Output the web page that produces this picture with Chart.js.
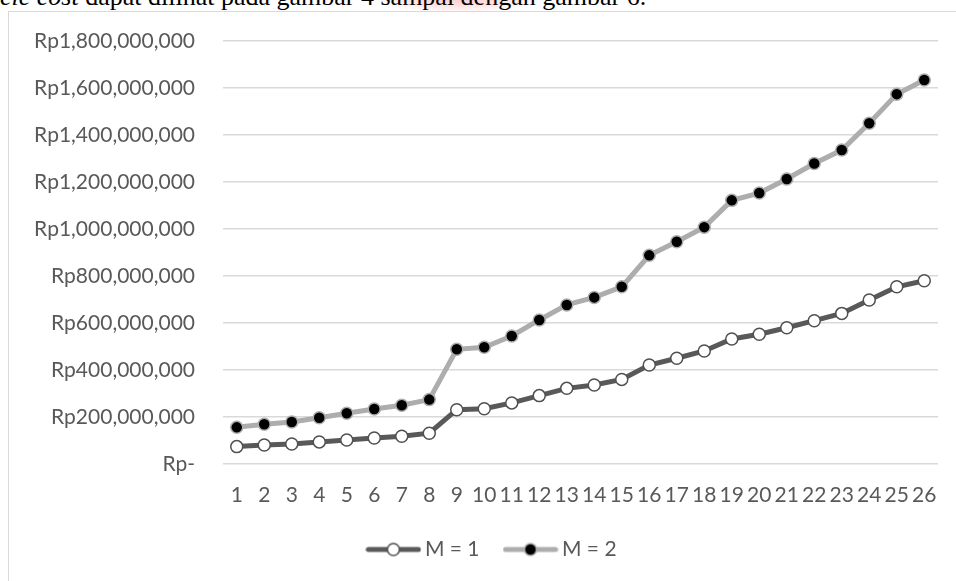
<!DOCTYPE html>
<html>
<head>
<meta charset="utf-8">
<script src="https://cdn.jsdelivr.net/npm/chart.js@4.4.1/dist/chart.umd.min.js"></script>
<style>
  html, body { margin: 0; padding: 0; background: #fff; overflow: hidden; }
  body { width: 956px; height: 581px; position: relative; }
  #caption {
    position: absolute; left: 0; top: -16px;
    font-family: "Liberation Serif", "Times New Roman", serif;
    font-size: 26px; line-height: 26px; white-space: nowrap; color: #000;
  }
  #caption .hl {
    background: radial-gradient(ellipse at center, rgba(255,120,120,0.45) 0%, rgba(255,170,170,0.25) 55%, rgba(255,255,255,0) 80%);
  }
  #box {
    position: absolute; left: 8px; top: 11px; width: 947px; height: 569px;
    border-left: 1px solid #d9d9d9; border-top: 1px solid #d9d9d9;
  }
</style>
</head>
<body>
<div id="caption"><i>cle cost</i> dapat dilihat pada gambar 4 <span class="hl">sampai dengan</span> gambar 6.</div>
<div id="box"><canvas id="chart"></canvas></div>
<script>
// periode (x axis)
const periods = ["1","2","3","4","5","6","7","8","9","10","11","12","13",
  "14","15","16","17","18","19","20","21","22","23","24","25","26"];

// M = 1
const costM1 = [74000000, 81000000, 85000000, 94000000, 102000000, 111000000,
  118000000, 131000000, 231000000, 235000000, 260000000, 291000000, 322000000,
  336000000, 360000000, 421000000, 450000000, 481000000, 532000000, 552000000,
  580000000, 610000000, 641000000, 698000000, 754000000, 780000000];

// M = 2
const costM2 = [156000000, 169000000, 179000000, 197000000, 216000000, 234000000,
  250000000, 274000000, 488000000, 497000000, 545000000, 613000000, 677000000,
  709000000, 754000000, 888000000, 946000000, 1008000000, 1122000000, 1153000000,
  1213000000, 1279000000, 1336000000, 1450000000, 1574000000, 1634000000];

const seriesNames = ["M = 1", "M = 2"];
const yMax = 1800000000;
const yStep = 200000000;

const textColor = "#595959";
const tickFont = { family: "Lato", size: 21 };

// legend swatch: line with the marker in the middle
function swatch(lineColor, fill, stroke) {
  const c = document.createElement("canvas");
  c.width = 56; c.height = 20;
  const g = c.getContext("2d");
  g.strokeStyle = lineColor; g.lineWidth = 5; g.lineCap = "round";
  g.beginPath(); g.moveTo(3, 10); g.lineTo(53, 10); g.stroke();
  g.beginPath(); g.arc(28, 10, 6, 0, Math.PI * 2);
  g.fillStyle = fill; g.fill();
  g.lineWidth = 1.5; g.strokeStyle = stroke; g.stroke();
  return c;
}
const swatches = [
  swatch("#595959", "#ffffff", "#505050"),
  swatch("#adadad", "#000000", "#adadad")
];

// nudge the legend a bit to the right, like the original
const legendShift = {
  id: "legendShift",
  afterLayout(chart) {
    chart.legend.left += 21;
    chart.legend.right += 21;
  }
};

new Chart(document.getElementById("chart"), {
  type: "line",
  data: {
    labels: periods,
    datasets: [{
      label: seriesNames[0],
      data: costM1,
      borderColor: "#595959",
      borderWidth: 5,
      pointRadius: 6,
      pointBackgroundColor: "#ffffff",
      pointBorderColor: "#505050",
      pointBorderWidth: 1.5,
      tension: 0
    }, {
      label: seriesNames[1],
      data: costM2,
      borderColor: "#adadad",
      borderWidth: 5,
      pointRadius: 6,
      pointBackgroundColor: "#000000",
      pointBorderColor: "#adadad",
      pointBorderWidth: 1.5,
      tension: 0
    }]
  },
  plugins: [legendShift],
  options: {
    responsive: true,
    maintainAspectRatio: false,
    animation: false,
    layout: { padding: { top: 6, right: 18, bottom: 11, left: 0 } },
    plugins: {
      tooltip: { enabled: false },
      legend: {
        position: "bottom",
        labels: {
          color: textColor,
          font: tickFont,
          usePointStyle: true,
          pointStyleWidth: 42,
          padding: 30,
          generateLabels(chart) {
            const items = Chart.defaults.plugins.legend.labels.generateLabels(chart);
            items.forEach((it, i) => { it.pointStyle = swatches[i]; });
            return items;
          }
        }
      }
    },
    scales: {
      x: {
        offset: true,
        grid: { display: false },
        border: { display: false },
        ticks: { color: textColor, font: tickFont, autoSkip: false, maxRotation: 0, padding: 11 },
        afterFit(scale) { scale.height = 45; }
      },
      y: {
        min: 0,
        max: yMax,
        grid: { color: "#d9d9d9", lineWidth: 1.5, drawTicks: false },
        border: { display: false },
        ticks: {
          stepSize: yStep,
          color: textColor,
          font: { family: "Lato", size: 21, lineHeight: 0.1 },
          padding: 28,
          callback: v => v === 0 ? "Rp-" : "Rp" + v.toLocaleString("en-US")
        },
        afterFit(scale) { scale.width = 214; }
      }
    }
  }
});
</script>
</body>
</html>
